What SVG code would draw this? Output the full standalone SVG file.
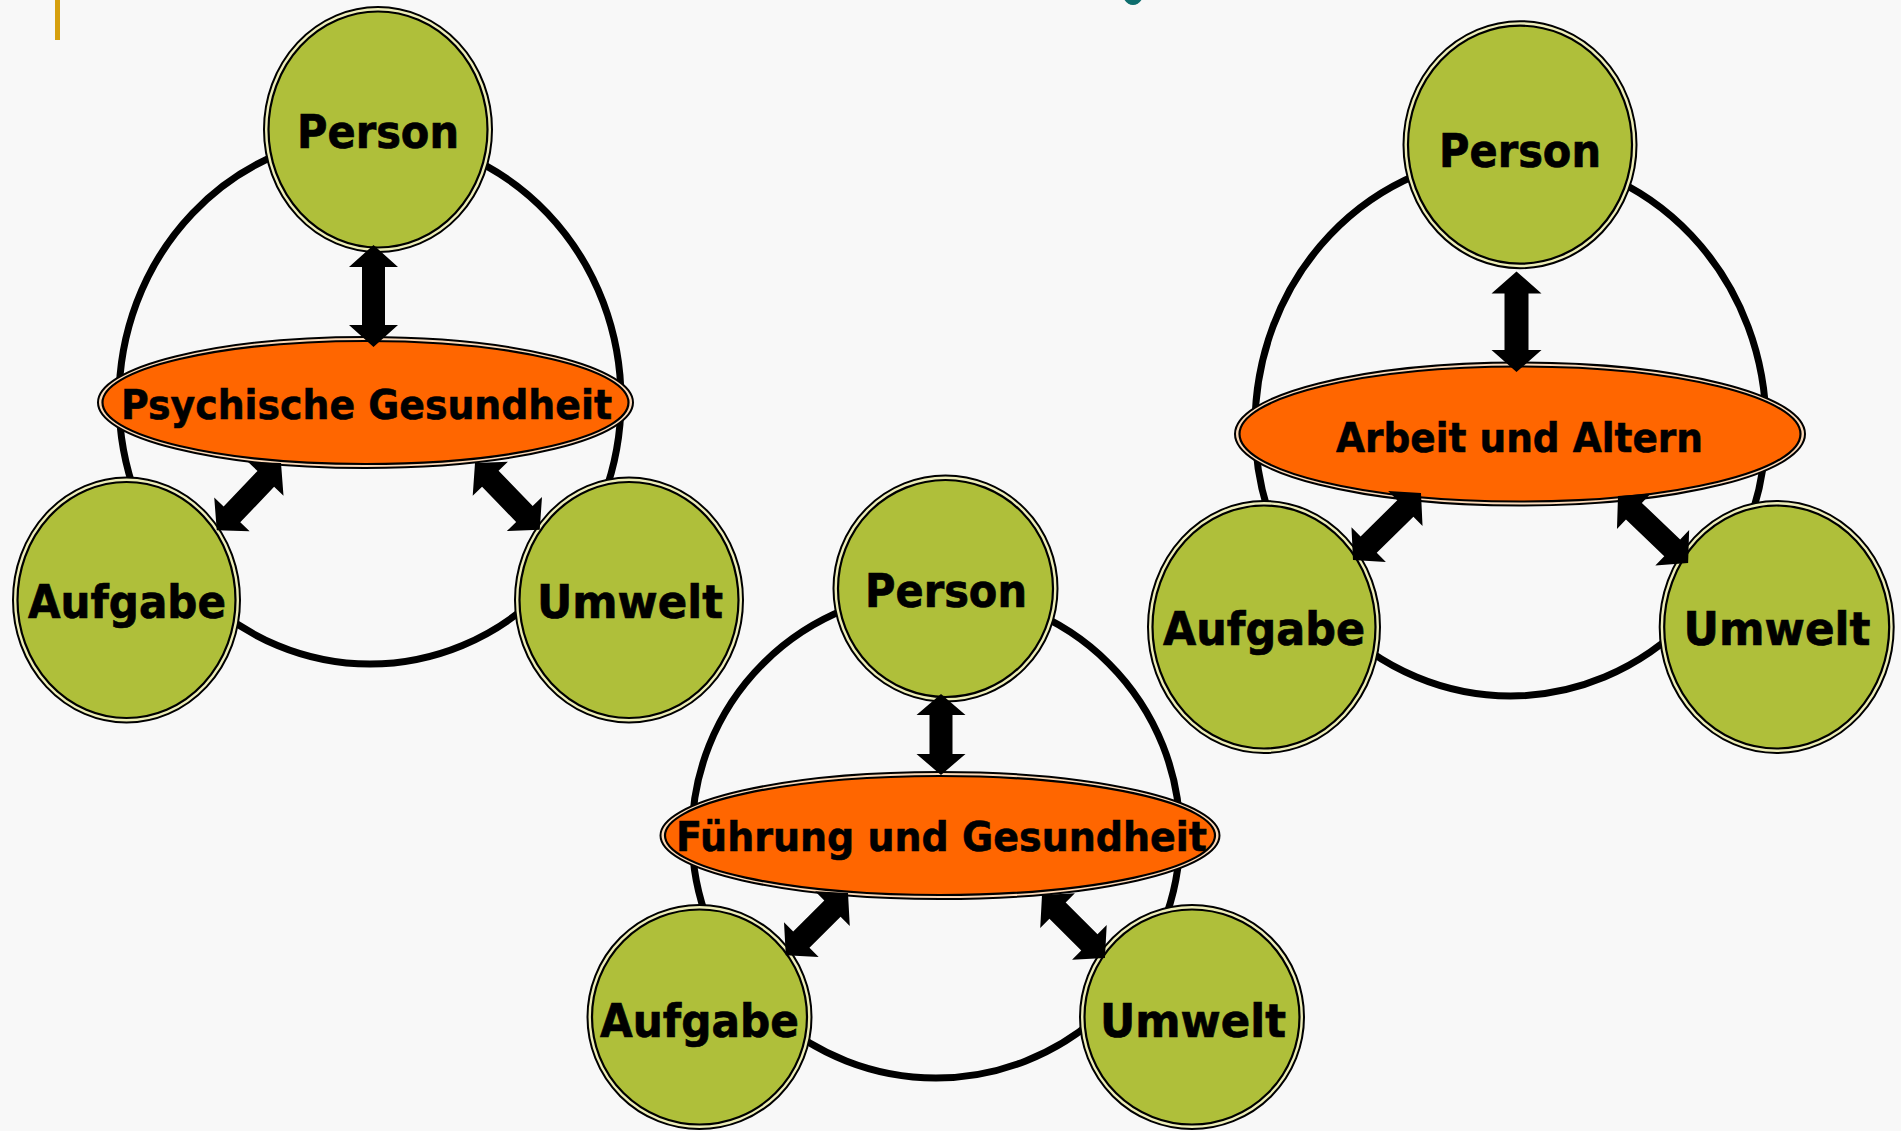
<svg xmlns="http://www.w3.org/2000/svg" width="1901" height="1131" viewBox="0 0 1901 1131">
<defs>
<style>
.ring{fill:none;stroke:#000;stroke-width:7}
.co{fill:#EDEDB8;stroke:#000;stroke-width:2}
.ci{fill:#AFBF3A;stroke:#000;stroke-width:2.2}
.eo{fill:#FBD9B8;stroke:#000;stroke-width:2}
.ei{fill:#FF6600;stroke:#000;stroke-width:2.2}
.arr{fill:#000;stroke:none}
.lbl{font-family:"DejaVu Sans","Liberation Sans",sans-serif;font-weight:bold;font-size:46px;fill:#000;stroke:#000;stroke-width:0.7;text-anchor:middle}
.elb{font-family:"DejaVu Sans","Liberation Sans",sans-serif;font-weight:bold;font-size:41px;fill:#000;stroke:#000;stroke-width:0.6;text-anchor:middle}
</style>
</defs>
<rect x="0" y="0" width="1901" height="1131" fill="#F8F8F8"/>
<rect x="55" y="0" width="5" height="40" fill="#D6A00E"/>
<ellipse cx="1133" cy="-16" rx="13" ry="21" fill="#0E6E6E"/>

<g id="connectors-ring">
<ellipse class="ring" cx="370" cy="400" rx="251" ry="264"/>
<ellipse class="ring" cx="936" cy="835" rx="244" ry="243"/>
<ellipse class="ring" cx="1510.5" cy="426" rx="255.5" ry="270"/>
</g>

<g id="d1-person">
<ellipse class="co" cx="378" cy="129.5" rx="114" ry="122.5"/>
<ellipse class="ci" cx="378" cy="129.5" rx="109.5" ry="118"/>
<text class="lbl" x="378" y="148" textLength="162" lengthAdjust="spacingAndGlyphs">Person</text>
</g>
<g id="d1-aufgabe">
<ellipse class="co" cx="126.5" cy="600" rx="113.5" ry="122.5"/>
<ellipse class="ci" cx="126.5" cy="600" rx="109" ry="118"/>
<text class="lbl" x="127" y="618" textLength="198" lengthAdjust="spacingAndGlyphs">Aufgabe</text>
</g>
<g id="d1-umwelt">
<ellipse class="co" cx="629" cy="600" rx="114" ry="122.5"/>
<ellipse class="ci" cx="629" cy="600" rx="109.5" ry="118"/>
<text class="lbl" x="630" y="618" textLength="186" lengthAdjust="spacingAndGlyphs">Umwelt</text>
</g>
<g id="d1-center">
<ellipse class="eo" cx="365.5" cy="402.5" rx="267.5" ry="65.5"/>
<ellipse class="ei" cx="365.5" cy="402.5" rx="263" ry="61.5"/>
<text class="elb" x="366.5" y="419" textLength="491" lengthAdjust="spacingAndGlyphs">Psychische Gesundheit</text>
</g>

<g id="d2-person">
<ellipse class="co" cx="945.5" cy="588.5" rx="112" ry="113"/>
<ellipse class="ci" cx="945.5" cy="588.5" rx="107.5" ry="108.5"/>
<text class="lbl" x="946" y="607" textLength="162" lengthAdjust="spacingAndGlyphs">Person</text>
</g>
<g id="d2-aufgabe">
<ellipse class="co" cx="699.5" cy="1017" rx="112" ry="112"/>
<ellipse class="ci" cx="699.5" cy="1017" rx="107.5" ry="107.5"/>
<text class="lbl" x="699.5" y="1037" textLength="199" lengthAdjust="spacingAndGlyphs">Aufgabe</text>
</g>
<g id="d2-umwelt">
<ellipse class="co" cx="1192" cy="1017" rx="112" ry="112"/>
<ellipse class="ci" cx="1192" cy="1017" rx="107.5" ry="107.5"/>
<text class="lbl" x="1193" y="1037" textLength="186" lengthAdjust="spacingAndGlyphs">Umwelt</text>
</g>
<g id="d2-center">
<ellipse class="eo" cx="940" cy="835.5" rx="279.5" ry="63.5"/>
<ellipse class="ei" cx="940" cy="835.5" rx="275" ry="59.5"/>
<text class="elb" x="941.5" y="851" textLength="531" lengthAdjust="spacingAndGlyphs">Führung und Gesundheit</text>
</g>

<g id="d3-person">
<ellipse class="co" cx="1520" cy="144.7" rx="116.5" ry="123.5"/>
<ellipse class="ci" cx="1520" cy="144.7" rx="112" ry="119"/>
<text class="lbl" x="1520" y="167" textLength="162" lengthAdjust="spacingAndGlyphs">Person</text>
</g>
<g id="d3-aufgabe">
<ellipse class="co" cx="1264" cy="627" rx="116" ry="126"/>
<ellipse class="ci" cx="1264" cy="627" rx="111.5" ry="121.5"/>
<text class="lbl" x="1264" y="645" textLength="202" lengthAdjust="spacingAndGlyphs">Aufgabe</text>
</g>
<g id="d3-umwelt">
<ellipse class="co" cx="1776.7" cy="627" rx="117" ry="126"/>
<ellipse class="ci" cx="1776.7" cy="627" rx="112.5" ry="121.5"/>
<text class="lbl" x="1777" y="645" textLength="187" lengthAdjust="spacingAndGlyphs">Umwelt</text>
</g>
<g id="d3-center">
<ellipse class="eo" cx="1520" cy="434" rx="285" ry="71.5"/>
<ellipse class="ei" cx="1520" cy="434" rx="280.5" ry="67.5"/>
<text class="elb" x="1519.5" y="452" textLength="367" lengthAdjust="spacingAndGlyphs">Arbeit und Altern</text>
</g>

<g id="connectors-arrows">
<polygon class="arr" transform="translate(373.5,245) rotate(90)" points="0,0 22,-24.5 22,-11.5 80,-11.5 80,-24.5 102,0 80,24.5 80,11.5 22,11.5 22,24.5"/>
<polygon class="arr" transform="translate(281,463) rotate(133.7)" points="0,0 22,-24.5 22,-11.5 71,-11.5 71,-24.5 93,0 71,24.5 71,11.5 22,11.5 22,24.5"/>
<polygon class="arr" transform="translate(475,463) rotate(45.9)" points="0,0 22,-24.5 22,-11.5 71,-11.5 71,-24.5 93,0 71,24.5 71,11.5 22,11.5 22,24.5"/>
<polygon class="arr" transform="translate(941,694) rotate(90)" points="0,0 21,-24.5 21,-11.5 60,-11.5 60,-24.5 81,0 60,24.5 60,11.5 21,11.5 21,24.5"/>
<polygon class="arr" transform="translate(848,893) rotate(135)" points="0,0 22,-24.5 22,-11.5 66,-11.5 66,-24.5 88,0 66,24.5 66,11.5 22,11.5 22,24.5"/>
<polygon class="arr" transform="translate(1042,895) rotate(45)" points="0,0 22,-24.5 22,-11.5 67,-11.5 67,-24.5 89,0 67,24.5 67,11.5 22,11.5 22,24.5"/>
<polygon class="arr" transform="translate(1516.5,271.5) rotate(90)" points="0,0 22,-25 22,-12 78.5,-12 78.5,-25 100.5,0 78.5,25 78.5,12 22,12 22,25"/>
<polygon class="arr" transform="translate(1421,493) rotate(135.4)" points="0,0 22,-24.5 22,-11.5 73.5,-11.5 73.5,-24.5 95.5,0 73.5,24.5 73.5,11.5 22,11.5 22,24.5"/>
<polygon class="arr" transform="translate(1618,496) rotate(43.7)" points="0,0 22,-24.5 22,-11.5 75,-11.5 75,-24.5 97,0 75,24.5 75,11.5 22,11.5 22,24.5"/>
</g>
</svg>
